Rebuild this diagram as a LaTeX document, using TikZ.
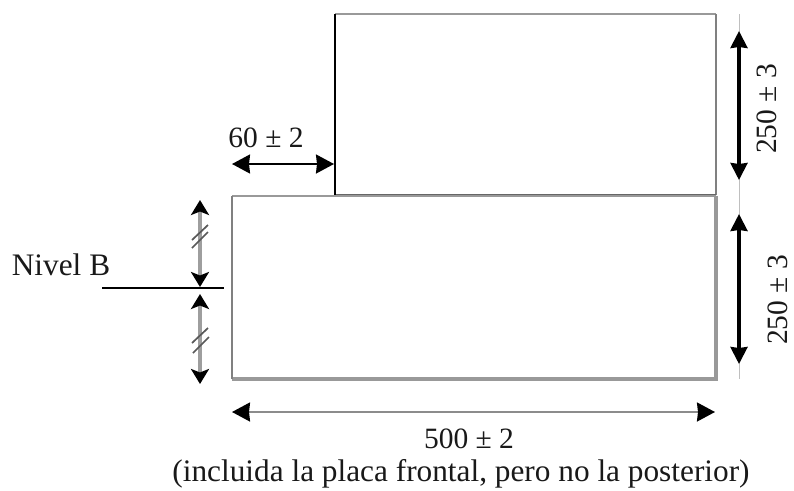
\documentclass[tikz,border=0pt]{standalone}
\usepackage{fontspec}
\setmainfont{Liberation Serif}
\usetikzlibrary{arrows.meta}
\tikzset{
  x=1pt,y=-1pt,
  boxgray/.style={draw=black!40,line width=3.2pt},
  boxthin/.style={draw=black!40,line width=2.8pt},
  dimblack/.style={draw=black,line width=3.2pt,{Stealth[length=17pt,width=17pt,inset=1pt]}-{Stealth[length=17pt,width=17pt,inset=1pt]}},
  dimthin/.style={draw=black,line width=2pt,{Stealth[length=18pt,width=19pt,inset=1pt]}-{Stealth[length=18pt,width=19pt,inset=1pt]}},
  dimgray/.style={draw=black!38,line width=3.4pt,{Stealth[length=15pt,width=18pt,inset=3.5pt,fill=black,color=black]}-{Stealth[length=15pt,width=18pt,inset=3.5pt,fill=black,color=black]}},
  faint/.style={draw=black!25,line width=1pt},
  tick/.style={draw=black!65,line width=1.7pt},
  lbl/.style={font=\fontsize{31.3}{36}\selectfont,inner sep=0pt,text=black!90},
  num/.style={font=\fontsize{29.5}{34}\selectfont,inner sep=0pt,text=black!90},
}
\begin{document}
\begin{tikzpicture}
\useasboundingbox (0,0) rectangle (794,490);
\fill[white] (0,0) rectangle (794,490);
% named corners
\coordinate (tl) at (335,14);
\coordinate (tr) at (716,14);
\coordinate (mr) at (716,195);
\coordinate (ml) at (335,195);
\coordinate (bl) at (232,196);
\coordinate (br) at (716,379);
\coordinate (bbl) at (232,379);
\coordinate (bmr) at (716,196);
% boxes
\draw[boxthin] (tl) -- (tr);
\draw[draw=black!50,line width=2.2pt] (tr) -- (mr);
\draw[draw=black!60,line width=1.8pt] (mr) -- (ml);
\draw[boxthin] (bl) -- (bmr);
\draw[boxgray,line join=miter] (bmr) -- (br) -- (bbl);
\draw[draw=black!50,line width=2.8pt] (bbl) -- (bl);
\draw[black,line width=2.4pt] (tl) -- (ml);
% right faint extension
\coordinate (r1) at (739,14);
\coordinate (r2) at (739,31);
\coordinate (r3) at (739,180);
\coordinate (r4) at (739,214);
\coordinate (r5) at (739,364);
\coordinate (r6) at (739,379);
\draw[faint] (r1) -- (r6);
\draw[dimblack] (r2) -- (r3);
\draw[dimblack] (r4) -- (r5);
% 60
\coordinate (a1) at (232,164);
\coordinate (a2) at (334,164);
\draw[dimthin] (a1) -- (a2);
% 500
\coordinate (w1) at (232,412);
\coordinate (w2) at (715,412);
\draw[draw=black!45,line width=2pt,{Stealth[length=18pt,width=19pt,inset=1pt,color=black]}-{Stealth[length=18pt,width=19pt,inset=1pt,color=black]}] (w1) -- (w2);
% Left dims
\coordinate (l1) at (200,200);
\coordinate (l2) at (200,287);
\coordinate (l3) at (200,294);
\coordinate (l4) at (200,384);
\draw[dimgray] (l1) -- (l2);
\draw[dimgray] (l3) -- (l4);
\draw[tick] (192,240) -- (208,225);
\draw[tick] (192,248) -- (208,232);
\draw[tick] (192,343) -- (208,328);
\draw[tick] (193,353) -- (209,337);
% Level line
\coordinate (n1) at (102,288);
\coordinate (n2) at (224,288);
\draw[black,line width=2.2pt] (n1) -- (n2);
% labels
\node[num,anchor=center] (t60) at (266,138) {60 ± 2};
\node[num,anchor=center,rotate=90] (t250a) at (767,109) {250 ± 3};
\node[num,anchor=center,rotate=90] (t250b) at (778,300) {250 ± 3};
\node[lbl,anchor=center] (tn) at (61,265) {Nivel B};
\node[num,anchor=center] (t500) at (469,439) {500 ± 2};
\node[lbl,anchor=center] (tinc) at (461,474) {(incluida la placa frontal, pero no la posterior)};
\end{tikzpicture}
\end{document}
